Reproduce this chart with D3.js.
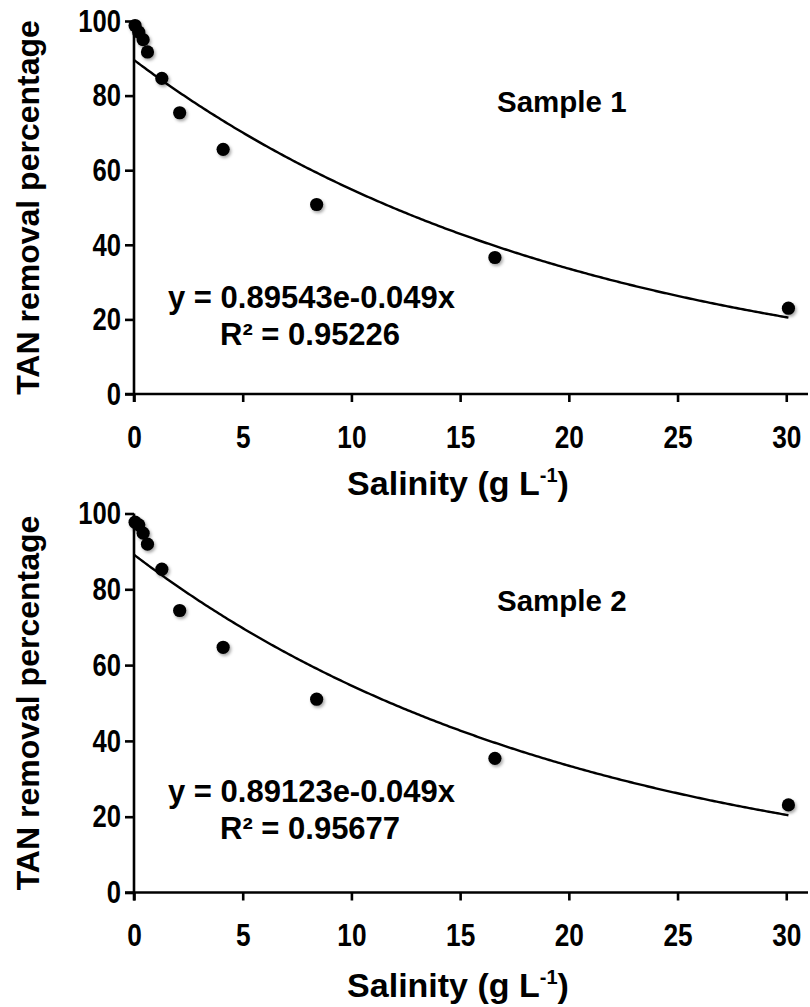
<!DOCTYPE html>
<html><head><meta charset="utf-8">
<script src="https://cdn.jsdelivr.net/npm/d3@7"></script>
<style>
html,body{margin:0;padding:0;background:#fff;}
svg{display:block;}
.tick text{font-family:"Liberation Sans",Arial,sans-serif;font-weight:bold;}
</style></head>
<body>
<svg id="c" width="810" height="1007"></svg>
<script>
// Data
const salinity = [0.05, 0.22, 0.42, 0.62, 1.28, 2.1, 4.1, 8.4, 16.6, 30.1];
const sample1 = [98.8, 97.0, 95.0, 91.7, 84.6, 75.4, 65.6, 50.8, 36.6, 23.0];
const sample2 = [97.7, 97.0, 94.8, 91.9, 85.3, 74.4, 64.7, 51.0, 35.4, 23.1];
const fitA = [0.89543, 0.89123];
const fitK = [0.049, 0.049];
const eqTexts = ["y = 0.89543e-0.049x", "y = 0.89123e-0.049x"];
const r2Texts = ["0.95226", "0.95677"];
const panelNames = ["Sample 1", "Sample 2"];
const xTicks = [0, 5, 10, 15, 20, 25, 30];
const yTicks = [0, 20, 40, 60, 80, 100];

const svg = d3.select("#c");
const defs = svg.append("defs");
const f = defs.append("filter").attr("id","sh").attr("x","-50%").attr("y","-50%").attr("width","200%").attr("height","200%");
f.append("feDropShadow").attr("dx",1.5).attr("dy",2).attr("stdDeviation",1.4).attr("flood-color","#000").attr("flood-opacity",0.35);

const panels = [
  {data: sample1, y0: 394, y1: 21, nameY: 112, eqY: 308, r2Y: 345, xtY: 495},
  {data: sample2, y0: 892.5, y1: 513.5, nameY: 611, eqY: 802, r2Y: 839, xtY: 997}
];
const bold = "'Liberation Sans',Arial,sans-serif";

panels.forEach((p, i) => {
  const x = d3.scaleLinear().domain([0, 31]).range([134, 808]);
  const y = d3.scaleLinear().domain([0, 100]).range([p.y0, p.y1]);
  const g = svg.append("g");

  // x axis
  const xa = g.append("g").attr("transform", `translate(0,${p.y0})`)
    .call(d3.axisBottom(x).tickValues(xTicks).tickSize(8).tickSizeOuter(0).tickPadding(23));
  xa.select(".domain").attr("d", `M${x(0)-9},0H${x(31)}`).attr("stroke","#000").attr("stroke-width",2.6);
  xa.selectAll(".tick line").attr("stroke","#000").attr("stroke-width",2.6);
  xa.selectAll(".tick text").attr("font-size",32).attr("fill","#000")
    .attr("transform","scale(0.82,1)");

  // y axis
  const ya = g.append("g").attr("transform", `translate(${x(0)},0)`)
    .call(d3.axisLeft(y).tickValues(yTicks).tickSize(9).tickSizeOuter(0).tickPadding(4));
  ya.select(".domain").attr("d", `M0,${y(100)}V${p.y0+8}`).attr("stroke","#000").attr("stroke-width",2.6);
  ya.selectAll(".tick line").attr("stroke","#000").attr("stroke-width",2.6);
  ya.selectAll(".tick text").attr("font-size",32).attr("fill","#000")
    .attr("x", 0).attr("transform","translate(-13,0) scale(0.8,1)");

  // fit curve
  const xs = d3.range(0, 30.101, 0.1);
  const line = d3.line().x(d => x(d)).y(d => y(100 * fitA[i] * Math.exp(-fitK[i] * d)));
  g.append("path").datum(xs).attr("d", line).attr("fill","none").attr("stroke","#000").attr("stroke-width",2.4);

  // points
  g.selectAll("circle.pt").data(salinity.map((s, j) => [s, p.data[j]])).join("circle")
    .attr("class","pt").attr("cx", d => x(d[0])).attr("cy", d => y(d[1])).attr("r", 6.6)
    .attr("fill","#000").attr("filter","url(#sh)");

  // texts
  g.append("text").attr("x", 497).attr("y", p.nameY).attr("font-family", bold).attr("font-weight","bold")
    .attr("font-size", 29.5).text(panelNames[i]);
  g.append("text").attr("x", 168).attr("y", p.eqY).attr("font-family", bold).attr("font-weight","bold")
    .attr("font-size", 31).text(eqTexts[i]);
  g.append("text").attr("x", 220).attr("y", p.r2Y).attr("font-family", bold).attr("font-weight","bold")
    .attr("font-size", 31).text("R² = " + r2Texts[i]);

  // x title
  const xt = g.append("text").attr("x", 458).attr("y", p.xtY).attr("text-anchor","middle")
    .attr("font-family", bold).attr("font-weight","bold").attr("font-size",34);
  xt.append("tspan").text("Salinity (g L");
  xt.append("tspan").attr("font-size",20).attr("dy",-13).text("-1");
  xt.append("tspan").attr("dy",13).text(")");

  // y title
  g.append("text").attr("transform", `translate(39,${(p.y0 + p.y1) / 2}) rotate(-90)`).attr("text-anchor","middle")
    .attr("font-family", bold).attr("font-weight","bold").attr("font-size",32).text("TAN removal percentage");
});
</script>
</body></html>
